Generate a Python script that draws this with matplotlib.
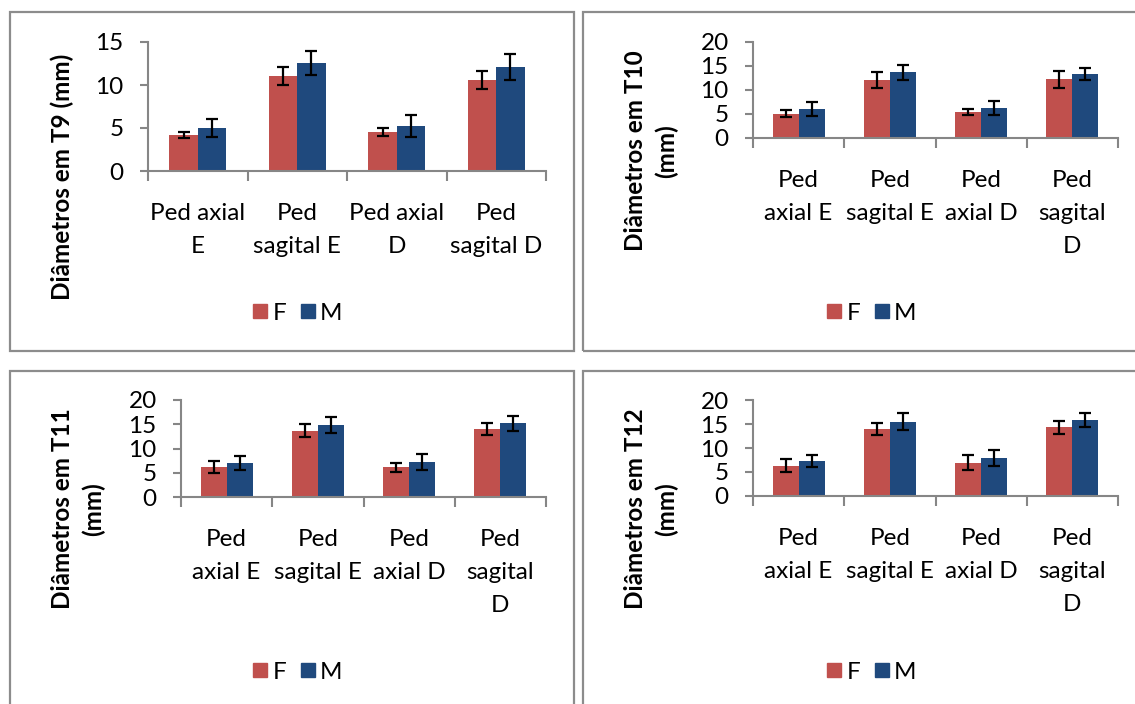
import matplotlib
matplotlib.use('Agg')
import matplotlib.pyplot as plt
from matplotlib.patches import Rectangle
from matplotlib.lines import Line2D
import numpy as np

# dados (médias e desvios, mm)
t9_f = [4.2, 11.05, 4.5, 10.6]
t9_f_err = [0.33, 1.08, 0.47, 1.08]
t9_m = [5.0, 12.6, 5.2, 12.1]
t9_m_err = [1.0, 1.4, 1.3, 1.5]

t10_f = [5.1, 12.1, 5.4, 12.2]
t10_f_err = [0.75, 1.7, 0.7, 1.75]
t10_m = [6.0, 13.7, 6.2, 13.3]
t10_m_err = [1.45, 1.55, 1.5, 1.2]

t11_f = [6.1, 13.7, 6.1, 14.0]
t11_f_err = [1.25, 1.3, 1.0, 1.3]
t11_m = [7.1, 14.8, 7.2, 15.2]
t11_m_err = [1.45, 1.6, 1.7, 1.5]

t12_f = [6.3, 14.0, 6.9, 14.3]
t12_f_err = [1.4, 1.3, 1.55, 1.4]
t12_m = [7.3, 15.5, 7.9, 15.8]
t12_m_err = [1.3, 1.8, 1.7, 1.45]

labels_t9 = ["Ped axial\nE", "Ped\nsagital E", "Ped axial\nD", "Ped\nsagital D"]
labels_other = ["Ped\naxial E", "Ped\nsagital E", "Ped\naxial D", "Ped\nsagital\nD"]

COR_F = '#C0504D'
COR_M = '#1F497D'
CINZA = '#868686'

W, H = 1135, 704
plt.rcParams['font.family'] = ['Lato', 'DejaVu Sans']

fig = plt.figure(figsize=(W / 100, H / 100), dpi=100)


def px_rect(x0, y0, x1, y1):
    # converte pixels (origem em cima) para fração da figura
    return [x0 / W, 1 - y1 / H, (x1 - x0) / W, (y1 - y0) / H]


# molduras dos quatro gráficos
for (x0, y0, x1, y1) in [(10, 12, 574, 351), (583, 12, 1140, 351),
                         (10, 371, 574, 710), (583, 371, 1140, 710)]:
    fig.add_artist(Rectangle((x0 / W, 1 - y1 / H), (x1 - x0) / W, (y1 - y0) / H,
                             transform=fig.transFigure, fill=False,
                             edgecolor='#8C8C8C', lw=1.6))


def painel(box, f, f_err, m, m_err, ymax, yticks, labels, ylabel, ylab_pos, leg_pos):
    ax = fig.add_axes(px_rect(*box))
    x = np.arange(len(f))
    w = 1 / 3.5
    ax.bar(x - w / 2, f, w, color=COR_F, zorder=2)
    ax.bar(x + w / 2, m, w, color=COR_M, zorder=2)
    ax.errorbar(x - w / 2, f, yerr=f_err, fmt='none', ecolor='black',
                elinewidth=1.6, capsize=4.5, capthick=1.6, zorder=3)
    ax.errorbar(x + w / 2, m, yerr=m_err, fmt='none', ecolor='black',
                elinewidth=1.6, capsize=4.5, capthick=1.6, zorder=3)

    ax.set_xlim(-0.5, len(f) - 0.5)
    ax.set_ylim(0, ymax)
    ax.set_yticks(yticks)
    ax.tick_params(axis='y', labelsize=17.5, length=5.5, width=1.5, color=CINZA, pad=12)

    # marcas nas divisões, rótulos no centro das categorias
    ax.set_xticks(np.arange(len(f) + 1) - 0.5)
    ax.set_xticklabels([])
    ax.tick_params(axis='x', which='major', length=7, width=1.5, color=CINZA)
    ax.set_xticks(x, minor=True)
    ax.set_xticklabels(labels, minor=True, fontsize=17.5, linespacing=1.72, va='top')
    ax.tick_params(axis='x', which='minor', length=0, pad=23)

    for s in ['top', 'right']:
        ax.spines[s].set_visible(False)
    for s in ['left', 'bottom']:
        ax.spines[s].set_color(CINZA)
        ax.spines[s].set_linewidth(1.5)

    fig.text(ylab_pos[0] / W, 1 - ylab_pos[1] / H, ylabel, rotation=90,
             ha='center', va='center', fontsize=17.5, fontweight='bold',
             linespacing=1.4, multialignment='center')

    handles = [Line2D([], [], marker='s', ls='none', color=COR_F, markersize=10),
               Line2D([], [], marker='s', ls='none', color=COR_M, markersize=10)]
    fig.legend(handles, ['F', 'M'], loc='center',
               bbox_to_anchor=(leg_pos[0] / W, 1 - leg_pos[1] / H),
               ncol=2, frameon=False, fontsize=17.5, handletextpad=0.05,
               columnspacing=0.45, handlelength=0.9)
    return ax


painel((148, 42, 546, 171), t9_f, t9_f_err, t9_m, t9_m_err, 15, [0, 5, 10, 15],
       labels_t9, "Diâmetros em T9 (mm)", (62, 177), (296, 313))
painel((753, 42, 1118, 138), t10_f, t10_f_err, t10_m, t10_m_err, 20, [0, 5, 10, 15, 20],
       labels_other, "Diâmetros em T10\n(mm)", (651, 151), (870, 313))
painel((181, 400, 546, 497), t11_f, t11_f_err, t11_m, t11_m_err, 20, [0, 5, 10, 15, 20],
       labels_other, "Diâmetros em T11\n(mm)", (78, 509), (296, 672))
painel((753, 400, 1118, 496), t12_f, t12_f_err, t12_m, t12_m_err, 20, [0, 5, 10, 15, 20],
       labels_other, "Diâmetros em T12\n(mm)", (651, 509), (870, 672))

fig.savefig('out.png', dpi=100)
